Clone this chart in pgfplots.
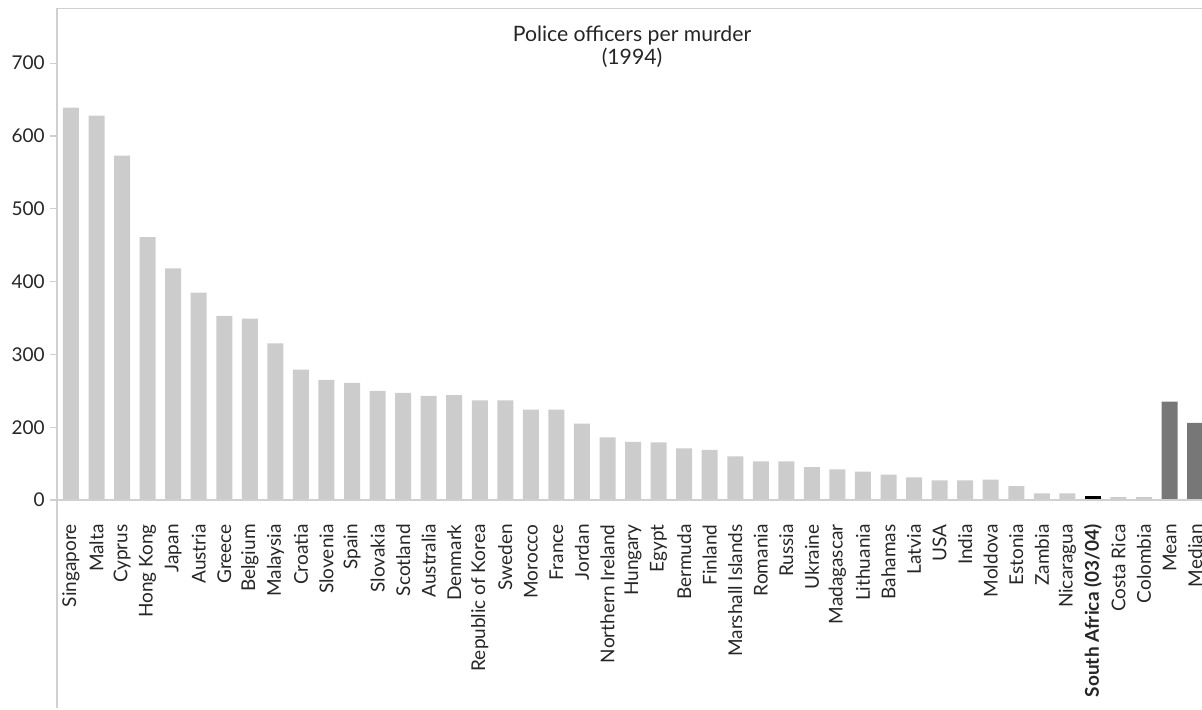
\documentclass[border=0pt]{standalone}
\usepackage{fontspec}
\setmainfont{Lato}
\usepackage{pgfplots}
\pgfplotsset{compat=1.18}
\definecolor{barc}{HTML}{CCCCCC}
\definecolor{statc}{HTML}{777777}
\definecolor{linec}{HTML}{D0D0D0}
\definecolor{textc}{HTML}{262626}
\begin{document}
\fontsize{9.5pt}{11pt}\selectfont
\begin{tikzpicture}
\useasboundingbox (-28.5pt,-105pt) rectangle (572.5pt,250pt);
\begin{axis}[name=ax, at={(0,0)}, anchor=south west, scale only axis,
  width=572.5pt, height=245.75pt,
  xmin=-0.548, xmax=44.27, ymin=100, ymax=775.1,
  axis line style={draw=none},
  ybar, bar width=8pt,
  xtick={0,...,44},
  xticklabels={Singapore,Malta,Cyprus,Hong Kong,Japan,Austria,Greece,Belgium,Malaysia,Croatia,Slovenia,Spain,Slovakia,Scotland,Australia,Denmark,Republic of Korea,Sweden,Morocco,France,Jordan,Northern Ireland,Hungary,Egypt,Bermuda,Finland,Marshall Islands,Romania,Russia,Ukraine,Madagascar,Lithuania,Bahamas,Latvia,USA,India,Moldova,Estonia,Zambia,Nicaragua,\textbf{South Africa (03/04)},Costa Rica,Colombia,Mean,Median},
  xtick style={draw=none},
  ytick={100,200,300,400,500,600,700},
  yticklabels={0,200,300,400,500,600,700},
  ytick style={draw=linec, line width=0.6pt},
  tick align=outside, major tick length=3.5pt,
  /pgf/number format/assume math mode=true,
  tick label style={font=\fontsize{9.5pt}{11pt}\selectfont, text=textc},
  xticklabel style={rotate=90, anchor=east, inner sep=0pt},
  xticklabel shift=8.5pt,
  yticklabel style={inner sep=0pt, xshift=-2.5pt},
]
\addplot[fill=barc, draw=none, bar shift=0pt] coordinates {
(0,639) (1,628) (2,573) (3,461) (4,418) (5,385) (6,353) (7,349) (8,315) (9,279)
(10,265) (11,261) (12,250) (13,247) (14,243) (15,244) (16,237) (17,237) (18,224) (19,224)
(20,205) (21,186) (22,180) (23,179) (24,171) (25,169) (26,160) (27,153) (28,153) (29,145)
(30,142) (31,139) (32,135) (33,131) (34,127) (35,127) (36,128) (37,119) (38,109) (39,109)
(41,104) (42,104)};
\addplot[fill=black, draw=none, bar shift=0pt] coordinates {(40,105)};
\addplot[fill=statc, draw=none, bar shift=0pt] coordinates {(43,235) (44,206)};
\end{axis}
\draw[linec, line width=0.6pt] (ax.north west) -- (ax.north east);
\draw[linec, line width=0.6pt] (ax.north west) -- (ax.south west) -- ++(0,-104pt);
\draw[linec, line width=0.6pt] (ax.south west) -- (ax.south east);
\node[anchor=base, text=textc, inner sep=0pt, font=\fontsize{10.6pt}{12pt}\selectfont] at ([xshift=287.5pt, yshift=-16.6pt]ax.north west) {Police officers per murder};
\node[anchor=base, text=textc, inner sep=0pt, font=\fontsize{10.6pt}{12pt}\selectfont] at ([xshift=287.5pt, yshift=-28.25pt]ax.north west) {(1994)};
\end{tikzpicture}
\end{document}
